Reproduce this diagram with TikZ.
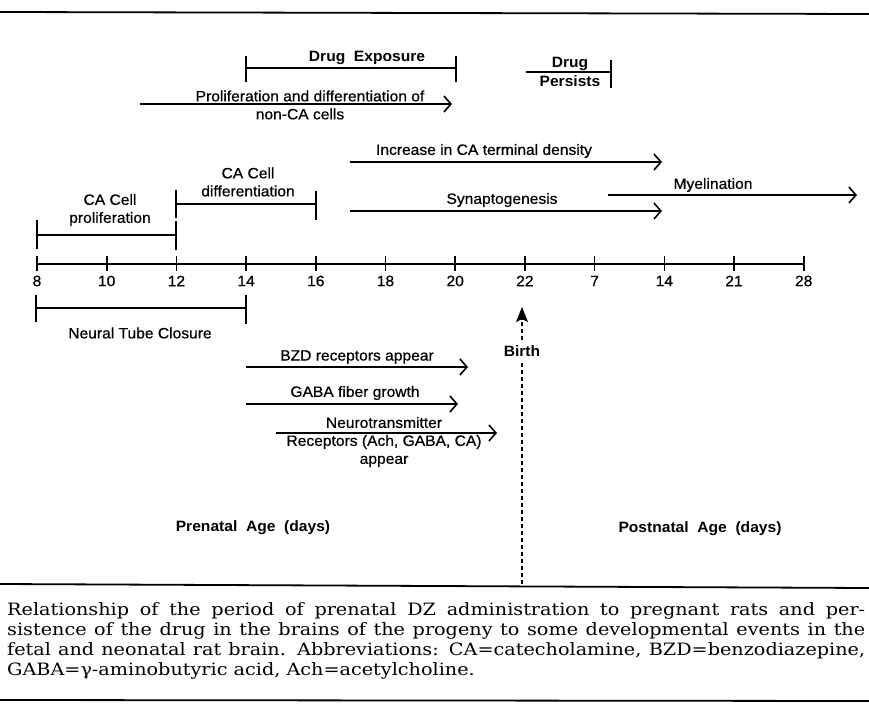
\documentclass[tikz,border=0pt]{standalone}
\usepackage{fontspec}
\setmainfont{DejaVu Serif}
\newfontfamily\capfont[FakeStretch=1.13]{DejaVu Serif}
\newfontfamily\lab[FakeStretch=1.04,FakeBold=0.6]{Liberation Sans}
\newfontfamily\blab[FakeStretch=1.04]{Liberation Sans Bold}
\usetikzlibrary{arrows.meta}
\newcommand{\capline}[1]{\makebox[858pt][s]{#1}}
\begin{document}
\begin{tikzpicture}[x=1pt,y=-1pt,
  every node/.style={inner sep=0pt},
  lbl/.style={font=\lab\fontsize{15}{18}\selectfont, align=center},
  blbl/.style={font=\blab\fontsize{15}{18}\selectfont, align=center},
  captext/.style={font=\capfont\fontsize{17}{20}\selectfont, anchor=base west},
  ln/.style={line width=1.6pt},
  arr/.style={line width=1.6pt, -{Straight Barb[length=7pt,width=16pt,line width=1.6pt]}},
  birthline/.style={line width=1.4pt, dash pattern=on 4pt off 3pt}
]
\useasboundingbox (0,0) rectangle (869,708);
\fill[white] (0,0) rectangle (869,708);
% rules
\coordinate (r1a) at (0,12); \coordinate (r1b) at (869,14);
\draw[line width=1.8pt] (r1a) -- (r1b);
\coordinate (r2a) at (0,584); \coordinate (r2b) at (869,588);
\draw[line width=1.8pt] (r2a) -- (r2b);
\coordinate (r3a) at (0,700); \coordinate (r3b) at (869,701);
\draw[line width=1.8pt] (r3a) -- (r3b);

% axis
\coordinate (ax0) at (37,264); \coordinate (ax1) at (803.7,264);
\draw[ln] (ax0) -- (ax1);
\foreach \l [count=\i from 0] in {8,10,12,14,16,18,20,22,7,14,21,28}{
  \pgfmathsetmacro{\xx}{37+69.7*\i}
  \draw[ln] (\xx,256) -- (\xx,271);
  \node[lbl, anchor=center] (t\i) at (\xx,281) {\l};
}

% Drug exposure
\coordinate (de0) at (246,68); \coordinate (de1) at (456,68);
\draw[ln] (246,56) -- (246,82) (456,56) -- (456,82) (de0) -- (de1);
\node[blbl] (dexp) at (367,58) {Drug\ \ Exposure};
% Drug persists
\coordinate (dp0) at (526,72); \coordinate (dp1) at (611,72);
\draw[ln] (dp0) -- (dp1) (611,60) -- (611,88);
\node[blbl] (dpers) at (570,72) {Drug\\[1pt]Persists};

% Proliferation non-CA
\coordinate (pa0) at (140,104); \coordinate (pa1) at (452,104);
\draw[arr] (pa0) -- (pa1);
\node[lbl] (pl1) at (310,96) {Proliferation and differentiation of};
\node[lbl] (pl2) at (300,114) {non-CA cells};

% Increase in CA terminal density
\coordinate (ia0) at (350,162); \coordinate (ia1) at (662,162);
\draw[arr] (ia0) -- (ia1);
\node[lbl] (il) at (484,151) {Increase in CA terminal density};

% Synaptogenesis
\coordinate (sa0) at (350,211); \coordinate (sa1) at (662,211);
\draw[arr] (sa0) -- (sa1);
\node[lbl] (sl) at (502,200) {Synaptogenesis};

% Myelination
\coordinate (ma0) at (608,195); \coordinate (ma1) at (857,195);
\draw[arr] (ma0) -- (ma1);
\node[lbl] (ml) at (713,185) {Myelination};

% CA cell proliferation
\coordinate (cp0) at (37,235); \coordinate (cp1) at (176,235);
\draw[ln] (37,220) -- (37,249) (176,221) -- (176,250) (cp0) -- (cp1);
\node[lbl] (cpl) at (110,210) {CA Cell\\proliferation};

% CA cell differentiation
\coordinate (cd0) at (176,204); \coordinate (cd1) at (316,204);
\draw[ln] (176,190) -- (176,218) (316,191) -- (316,220) (cd0) -- (cd1);
\node[lbl] (cdl) at (248,182) {CA Cell\\differentiation};

% Neural tube closure
\coordinate (nt0) at (36,308); \coordinate (nt1) at (246,308);
\draw[ln] (36,295) -- (36,322) (246,295) -- (246,324) (nt0) -- (nt1);
\node[lbl] (ntl) at (140,333) {Neural Tube Closure};

% Birth
\node[blbl] (birth) at (522,351) {Birth};
\coordinate (btop) at (522,307);
\coordinate (bbot) at (522,584);
\draw[birthline, -{Stealth[length=15pt,width=12pt,inset=3pt]}] ([yshift=5pt]birth.north) -- (btop);
\draw[birthline] ([yshift=-6pt]birth.south) -- (bbot);

% BZD
\coordinate (ba0) at (246,367); \coordinate (ba1) at (468,367);
\draw[arr] (ba0) -- (ba1);
\node[lbl] (bl) at (357,357) {BZD receptors appear};
% GABA fiber
\coordinate (ga0) at (246,404); \coordinate (ga1) at (458,404);
\draw[arr] (ga0) -- (ga1);
\node[lbl] (gl) at (355,393) {GABA fiber growth};
% Neurotransmitter
\coordinate (na0) at (276,433); \coordinate (na1) at (497,433);
\draw[arr] (na0) -- (na1);
\node[lbl] (nl) at (384,442) {Neurotransmitter\\Receptors (Ach, GABA, CA)\\appear};

% Age labels
\node[blbl] (pre) at (253,528) {Prenatal\ \ Age\ \ (days)};
\node[blbl] (post) at (700,529) {Postnatal\ \ Age\ \ (days)};

% caption
\node[captext] (c1) at (7,615) {\capline{Relationship of the period of prenatal DZ administration to pregnant rats and per-}};
\node[captext] (c2) at (7,635) {\capline{sistence of the drug in the brains of the progeny to some developmental events in the}};
\node[captext] (c3) at (7,655) {\capline{fetal and neonatal rat brain. Abbreviations: CA=catecholamine, BZD=benzodiazepine,}};
\node[captext] (c4) at (7,675) {GABA=γ-aminobutyric acid, Ach=acetylcholine.};
\end{tikzpicture}
\end{document}
